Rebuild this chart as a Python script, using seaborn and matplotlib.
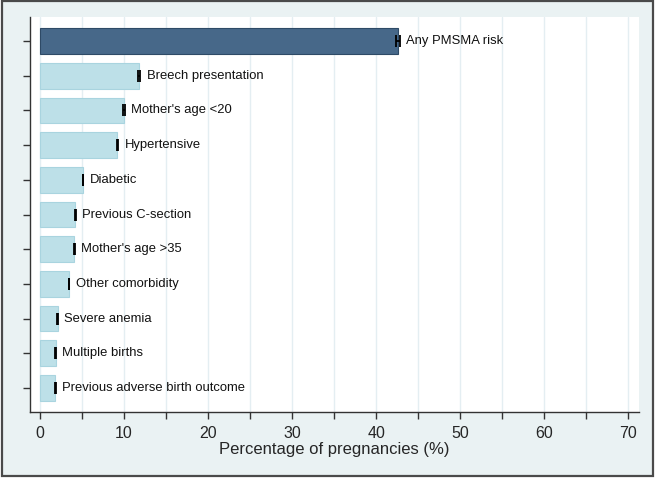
import matplotlib
matplotlib.use("Agg")
import matplotlib.pyplot as plt
import seaborn as sns
import pandas as pd
from matplotlib.patches import Rectangle

categories = ["Any PMSMA risk", "Breech presentation", "Mother's age <20", "Hypertensive",
              "Diabetic", "Previous C-section", "Mother's age >35", "Other comorbidity",
              "Severe anemia", "Multiple births", "Previous adverse birth outcome"]
values = [42.6, 11.8, 10.0, 9.2, 5.1, 4.2, 4.05, 3.45, 2.1, 1.85, 1.8]
ci_low = [42.4, 11.65, 9.9, 9.1, 5.05, 4.15, 4.0, 3.4, 2.06, 1.81, 1.76]
ci_high = [42.85, 11.95, 10.1, 9.3, 5.15, 4.25, 4.1, 3.5, 2.14, 1.89, 1.84]
group = ["any"] + ["each"] * 10
xticks = [0, 10, 20, 30, 40, 50, 60, 70]

df = pd.DataFrame({"cat": categories, "val": values, "group": group})

sns.set_style("white")
plt.rcParams["font.family"] = ["Liberation Sans", "DejaVu Sans"]

fig = plt.figure(figsize=(6.57, 4.78), dpi=100)
fig.patch.set_facecolor("white")
fig.patches.append(Rectangle((2 / 657, 1 - 476 / 478), 651 / 657, 475 / 478,
                             transform=fig.transFigure, facecolor="#eaf2f3",
                             edgecolor="#4a4a4a", linewidth=1.6, zorder=-10))

ax = fig.add_axes([30 / 657, 1 - 412 / 478, 609 / 657, 395 / 478])
ax.set_facecolor("white")

sns.barplot(data=df, y="cat", x="val", hue="group", orient="h", dodge=False,
            palette={"any": "#476889", "each": "#bde0e8"}, width=0.74,
            saturation=1, legend=False, ax=ax, zorder=2)
for p in ax.patches:
    fc = p.get_facecolor()
    if fc[0] < 0.5:
        p.set_edgecolor("#2e4a66")
    else:
        p.set_edgecolor("#a9d4df")
    p.set_linewidth(0.8)

ypos = list(range(len(categories)))
xerr = [[v - l for v, l in zip(values, ci_low)], [h - v for v, h in zip(values, ci_high)]]
ax.errorbar(values, ypos, xerr=xerr, fmt="none", ecolor="black",
            elinewidth=1.3, capsize=4.5, capthick=1.3, zorder=4)
for y, h, name in zip(ypos, ci_high, categories):
    ax.annotate(name, (h, y), xytext=(4.5, 0), textcoords="offset points",
                va="center", ha="left", fontsize=9.4, color="#111111", zorder=5)

ax.set_xlim(-1.2, 71.3)
ax.set_ylim(10.69, -0.69)
ax.set_xticks(xticks)
ax.set_xticks([5, 15, 25, 35, 45, 55, 65], minor=True)
ax.set_xticklabels([str(t) for t in xticks], fontsize=11.5)
ax.set_yticks(ypos)
ax.set_yticklabels([])
ax.tick_params(axis="x", which="both", direction="out", length=5, width=1,
               color="#333333", pad=5, bottom=True)
ax.tick_params(axis="y", direction="out", length=5, width=1, color="#333333", left=True)
ax.grid(axis="x", which="both", color="#e4eef2", linewidth=1, zorder=0)
ax.set_axisbelow(True)
for s in ["top", "right"]:
    ax.spines[s].set_visible(False)
for s in ["left", "bottom"]:
    ax.spines[s].set_color("#333333")
    ax.spines[s].set_linewidth(1)
ax.set_xlabel("Percentage of pregnancies (%)", fontsize=12, labelpad=1)
ax.set_ylabel("")

fig.savefig("out.png", dpi=100, facecolor=fig.get_facecolor())
